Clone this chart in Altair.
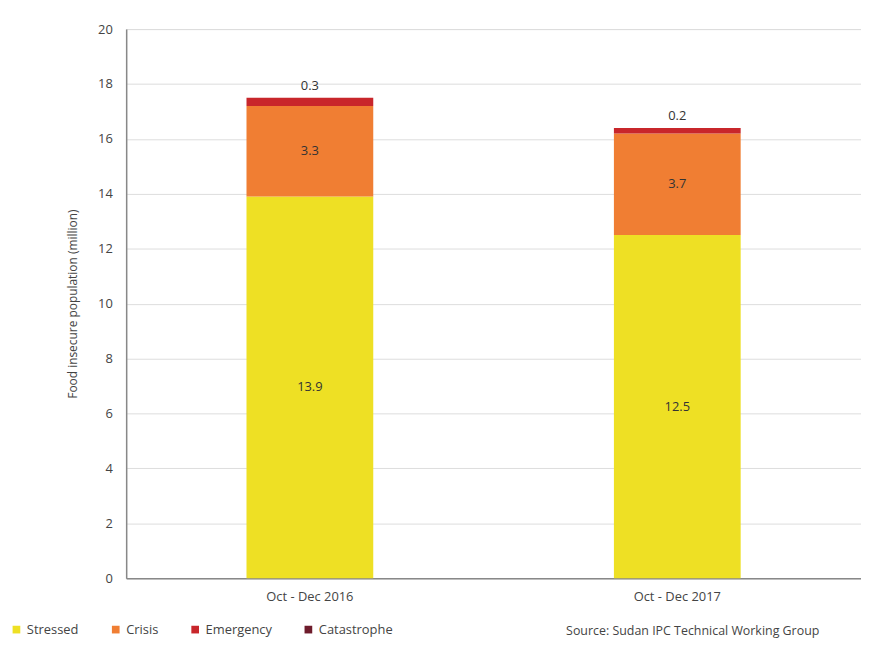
import altair as alt
import pandas as pd

periods = ["Oct - Dec 2016", "Oct - Dec 2017"]
phases = ["Stressed", "Crisis", "Emergency", "Catastrophe"]
stressed = [13.9, 12.5]
crisis = [3.3, 3.7]
emergency = [0.3, 0.2]
colors = ["#EEE024", "#F07E33", "#C8262B", "#6E1C2C"]
y_ticks = [0, 2, 4, 6, 8, 10, 12, 14, 16, 18, 20]
source_text = "Source: Sudan IPC Technical Working Group"

rows = []
for i, p in enumerate(periods):
    base = 0.0
    for ph, vals in zip(phases[:3], [stressed, crisis, emergency]):
        v = vals[i]
        rows.append({"period": p, "phase": ph, "order": phases.index(ph),
                     "y0": base, "y1": base + v, "mid": base + v / 2,
                     "label": f"{v:.1f}"})
        base += v
df = pd.DataFrame(rows)

FONT = "Open Sans"

x_enc = alt.X("period:N", sort=periods, title=None,
              scale=alt.Scale(paddingInner=0.655, paddingOuter=0.3275),
              axis=alt.Axis(labelAngle=0, labelFont=FONT, labelFontSize=13,
                            labelColor="#444444", ticks=False, labelPadding=12,
                            domainColor="#888888", domainWidth=1.5))

y_scale = alt.Scale(domain=[0, 20], nice=False)

bars = alt.Chart(df).mark_bar().encode(
    x=x_enc,
    y=alt.Y("y0:Q", scale=y_scale,
            title="Food insecure population (million)",
            axis=alt.Axis(values=y_ticks, tickSize=0, labelPadding=14,
                          labelFont=FONT, labelFontSize=13, labelColor="#444444",
                          titleFont=FONT, titleFontSize=12, titleFontWeight="normal",
                          titleColor="#444444", titlePadding=18,
                          domainColor="#888888", domainWidth=1.5,
                          gridColor="#DDDDDD", gridWidth=1)),
    y2="y1:Q",
    color=alt.Color("phase:N", scale=alt.Scale(domain=phases, range=colors),
                    legend=alt.Legend(title=None, orient="none", direction="horizontal",
                                      legendX=-117, legendY=598, symbolType="square",
                                      symbolSize=60, symbolStrokeWidth=0,
                                      labelFont=FONT, labelFontSize=13,
                                      labelColor="#444444", columnPadding=30)),
    order="order:Q",
)

inner = alt.Chart(df[df["phase"] != "Emergency"]).mark_text(
    font=FONT, fontSize=13, color="#333333"
).encode(
    x=alt.X("period:N", sort=periods),
    y=alt.Y("mid:Q", scale=y_scale),
    text="label:N",
)

top = alt.Chart(df[df["phase"] == "Emergency"]).mark_text(
    font=FONT, fontSize=13, color="#333333", dy=-12
).encode(
    x=alt.X("period:N", sort=periods),
    y=alt.Y("y1:Q", scale=y_scale),
    text="label:N",
)

src = alt.Chart(pd.DataFrame({"t": [source_text]})).mark_text(
    font=FONT, fontSize=12.5, color="#444444", align="left", baseline="middle"
).encode(
    x=alt.value(443), y=alt.value(606), text="t:N"
)

chart = alt.layer(bars, inner, top, src).properties(
    width=740, height=553,
    autosize=alt.AutoSizeParams(type="none"),
    padding={"left": 119, "top": 19, "right": 0, "bottom": 60},
).configure_view(stroke=None).configure(background="white")

chart.save("out.html", embed_options={"renderer": "svg", "actions": False})
